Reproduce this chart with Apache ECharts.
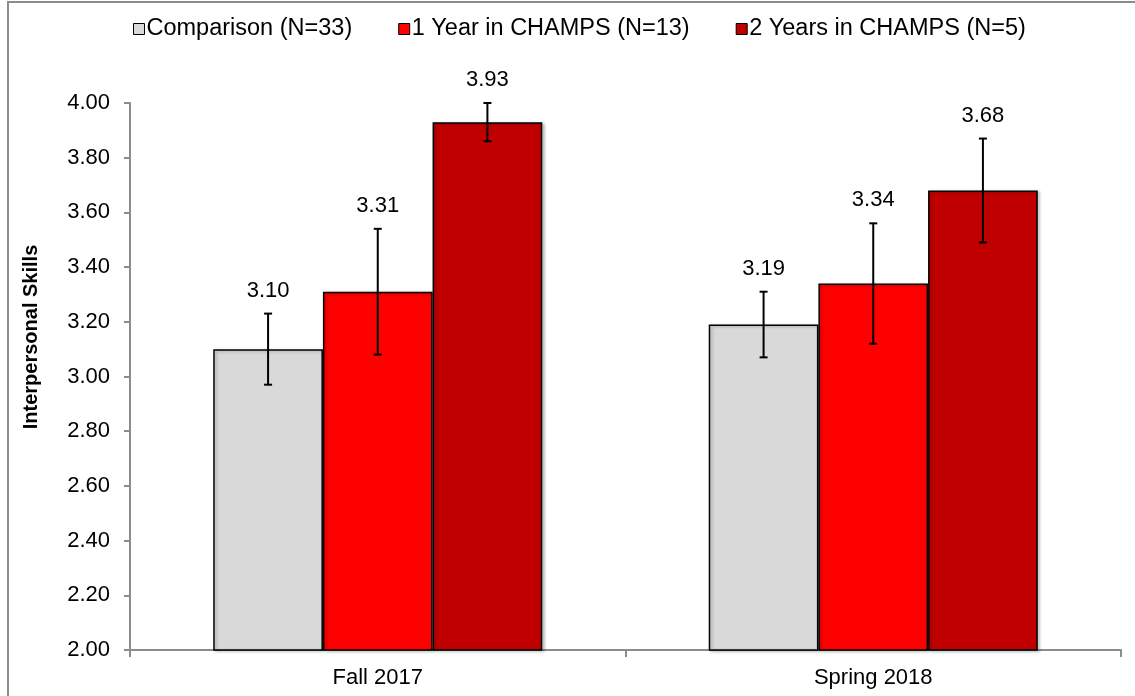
<!DOCTYPE html>
<html>
<head>
<meta charset="utf-8">
<script src="https://cdn.jsdelivr.net/npm/echarts@6/dist/echarts.min.js"></script>
<style>
  html, body { margin: 0; padding: 0; background: #fff; }
  #main { width: 1135px; height: 696px; }
</style>
</head>
<body>
<div id="main"></div>
<script>
// interpersonal skills – grouped bars with error bars

const categories = ['Fall 2017', 'Spring 2018'];
const seriesNames = ['Comparison (N=33)', '1 Year in CHAMPS (N=13)', '2 Years in CHAMPS (N=5)'];
const colors = ['#D9D9D9', '#FF0000', '#C00000'];

const comparison = [3.10, 3.19];
const oneYear = [3.31, 3.34];
const twoYears = [3.93, 3.68];

const comparisonLow = [2.97, 3.07];
const comparisonHigh = [3.23, 3.31];
const oneYearLow = [3.08, 3.12];
const oneYearHigh = [3.54, 3.56];
const twoYearsLow = [3.86, 3.49];
const twoYearsHigh = [4.00, 3.87];

const means = [comparison, oneYear, twoYears];
const lows = [comparisonLow, oneYearLow, twoYearsLow];
const highs = [comparisonHigh, oneYearHigh, twoYearsHigh];

const FONT = '"Liberation Sans", Arial, sans-serif';
const BAR_GAP = '0%';
const CAT_GAP = '33.6%';

const chart = echarts.init(document.getElementById('main'));

const bars = seriesNames.map((name, i) => ({
  name,
  type: 'bar',
  data: means[i],
  barGap: BAR_GAP,
  barCategoryGap: CAT_GAP,
  itemStyle: {
    color: colors[i],
    borderColor: '#000',
    borderWidth: 1.5,
    shadowColor: 'rgba(0,0,0,0.25)',
    shadowBlur: 3,
    shadowOffsetX: 2,
    shadowOffsetY: 1
  },
  z: 2
}));

const errors = seriesNames.map((name, i) => ({
  name,
  type: 'custom',
  data: categories.map((c, k) => [k, lows[i][k], highs[i][k], means[i][k]]),
  encode: { x: 0, y: [1, 2] },
  z: 5,
  silent: true,
  renderItem: (params, api) => {
    const k = api.value(0);
    const lo = api.coord([k, api.value(1)]);
    const hi = api.coord([k, api.value(2)]);
    const layout = api.barLayout({ barGap: BAR_GAP, barCategoryGap: CAT_GAP, count: seriesNames.length });
    const x = hi[0] + layout[i].offsetCenter;
    const cap = 4;
    const style = { stroke: '#000', lineWidth: 2 };
    return {
      type: 'group',
      children: [
        { type: 'line', shape: { x1: x, y1: hi[1], x2: x, y2: lo[1] }, style },
        { type: 'line', shape: { x1: x - cap, y1: hi[1], x2: x + cap, y2: hi[1] }, style },
        { type: 'line', shape: { x1: x - cap, y1: lo[1], x2: x + cap, y2: lo[1] }, style },
        {
          type: 'text',
          x: x,
          y: hi[1] - 23,
          style: {
            text: api.value(3).toFixed(2),
            font: '22px ' + FONT,
            fill: '#000',
            align: 'center',
            verticalAlign: 'middle'
          }
        }
      ]
    };
  }
}));

chart.setOption({
  backgroundColor: '#fff',
  animation: false,
  textStyle: { fontFamily: FONT },
  legend: {
    data: seriesNames,
    top: 12,
    left: 128,
    itemWidth: 11,
    itemHeight: 11,
    itemGap: 46,
    icon: 'rect',
    textStyle: { fontSize: 23.5, color: '#000', fontFamily: FONT, padding: [0, 0, 0, -3] },
    itemStyle: { borderColor: '#000', borderWidth: 1 }
  },
  grid: { left: 130, right: 14, top: 103, bottom: 46, containLabel: false },
  xAxis: {
    type: 'category',
    data: categories,
    axisLine: { lineStyle: { color: '#8c8c8c', width: 2 } },
    axisTick: { show: true, length: 7, interval: 0, lineStyle: { color: '#8c8c8c', width: 2 } },
    axisLabel: { color: '#000', fontSize: 22, margin: 17, fontFamily: FONT },
    splitLine: { show: false }
  },
  yAxis: {
    type: 'value',
    min: 2,
    max: 4,
    interval: 0.2,
    axisLine: { show: true, lineStyle: { color: '#8c8c8c', width: 2 } },
    axisTick: { show: true, length: 6, lineStyle: { color: '#8c8c8c', width: 2 } },
    axisLabel: { color: '#000', fontSize: 22, margin: 20, fontFamily: FONT, formatter: v => v.toFixed(2) },
    splitLine: { show: false }
  },
  graphic: [
    {
      type: 'rect',
      shape: { x: 8, y: 2, width: 1140, height: 710 },
      style: { fill: 'none', stroke: '#8c8c8c', lineWidth: 2 },
      silent: true
    },
    {
      type: 'text',
      x: 31,
      y: 337,
      rotation: Math.PI / 2,
      style: {
        text: 'Interpersonal Skills',
        font: 'bold 20px ' + FONT,
        fill: '#000',
        align: 'center',
        verticalAlign: 'middle'
      }
    }
  ],
  series: [...bars, ...errors]
});
</script>
</body>
</html>
